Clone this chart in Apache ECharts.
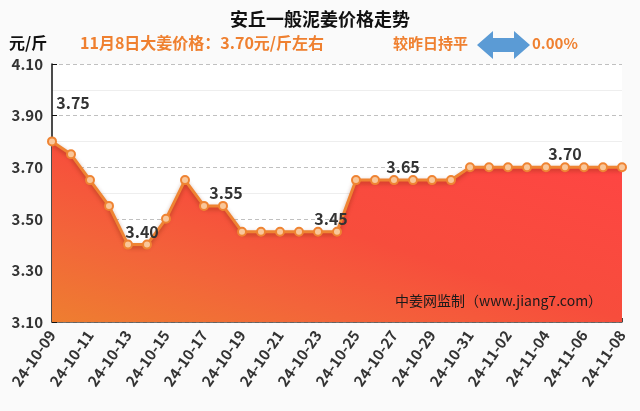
<!DOCTYPE html>
<html><head><meta charset="utf-8">
<script src="https://cdn.jsdelivr.net/npm/echarts@6/dist/echarts.min.js"></script>
<style>html,body{margin:0;padding:0;background:#fafafa}#c{width:640px;height:411px}</style>
</head><body><div id="c"></div>
<script>
var categories = ['24-10-09','24-10-10','24-10-11','24-10-12','24-10-13','24-10-14','24-10-15','24-10-16','24-10-17','24-10-18','24-10-19','24-10-20','24-10-21','24-10-22','24-10-23','24-10-24','24-10-25','24-10-26','24-10-27','24-10-28','24-10-29','24-10-30','24-10-31','24-11-01','24-11-02','24-11-03','24-11-04','24-11-05','24-11-06','24-11-07','24-11-08'];
var prices = [3.80,3.75,3.65,3.55,3.40,3.40,3.50,3.65,3.55,3.55,3.45,3.45,3.45,3.45,3.45,3.45,3.65,3.65,3.65,3.65,3.65,3.65,3.70,3.70,3.70,3.70,3.70,3.70,3.70,3.70,3.70];
var labelledIdx = [1,5,9,15,18,27];
var labelOffsets = {1:[2,-38],5:[-5,0],9:[3,0],15:[-6,0],18:[9,0],27:[0,0]};

var font = '"Noto Sans CJK SC","Noto Sans",sans-serif';
var data = prices.map(function(v,i){
  if (labelledIdx.indexOf(i) >= 0) {
    return {value:v, label:{show:true, position:'top', distance:0, offset:labelOffsets[i],
      formatter:function(p){return p.value.toFixed(2);},
      color:'#333', fontSize:16, fontWeight:'bold', fontFamily:font}};
  }
  return v;
});

var chart = echarts.init(document.getElementById('c'));
chart.setOption({
  backgroundColor:'#fafafa',
  animation:false,
  title:{text:'安丘一般泥姜价格走势', left:'center', top:5,
    textStyle:{fontSize:18, fontWeight:'bold', color:'#111', fontFamily:font}},
  grid:{left:52, right:18, top:64, bottom:89, show:true, backgroundColor:'#ffffff', borderWidth:0},
  xAxis:{type:'category', data:categories, boundaryGap:false,
    axisLine:{lineStyle:{color:'#444', width:1.5}},
    axisTick:{inside:true, length:4, interval:0, lineStyle:{color:'#444'}},
    axisLabel:{interval:1, rotate:55, margin:10, color:'#333', fontSize:15, fontWeight:'bold', fontFamily:font},
    splitLine:{show:false}},
  yAxis:{type:'value', min:3.1, max:4.1, interval:0.2,
    axisLine:{show:true, lineStyle:{color:'#111', width:1.5}},
    axisTick:{show:true, inside:true, length:5, lineStyle:{color:'#111'}},
    axisLabel:{formatter:function(v){return v.toFixed(2);}, color:'#333', fontSize:15, fontWeight:'bold', fontFamily:font, margin:9},
    splitLine:{show:true, lineStyle:{color:'#c0c0c0', type:[4,3]}},
    minorTick:{show:false, splitNumber:2},
    minorSplitLine:{show:true, lineStyle:{color:'#eeeeee', width:1}}},
  series:[{type:'line', data:data, smooth:false, symbol:'circle', symbolSize:8,
    itemStyle:{color:'#f9c79a', borderColor:'#ef8433', borderWidth:2},
    lineStyle:{color:'#ef8433', width:3, shadowColor:'rgba(120,40,0,0.45)', shadowBlur:4, shadowOffsetY:2},
    areaStyle:{color:new echarts.graphic.LinearGradient(0,1,0.316,-2.17,[
      {offset:0, color:'#ee7e30'},{offset:0.15, color:'#f3643a'},{offset:0.29, color:'#f74d3c'},{offset:0.574, color:'#ff4444'},{offset:1, color:'#ff4444'}]), opacity:1},
    z:3}],
  graphic:[
    {type:'text', left:9, top:35, style:{text:'元/斤', fill:'#111', fontSize:16, fontWeight:'bold', fontFamily:font}},
    {type:'text', left:80, top:35, style:{text:'11月8日大姜价格：3.70元/斤左右', fill:'#ef8030', fontSize:16, fontWeight:'bold', fontFamily:font}},
    {type:'text', left:393, top:36, style:{text:'较昨日持平', fill:'#ef8030', fontSize:15, fontWeight:'bold', fontFamily:font}},
    {type:'polygon', shape:{points:[[477,45],[493,31],[493,38],[514,38],[514,31],[530,45],[514,59],[514,52],[493,52],[493,59]]}, style:{fill:'#5b9bd5'}},
    {type:'text', left:532, top:36, style:{text:'0.00%', fill:'#ef8030', fontSize:15, fontWeight:'bold', fontFamily:font}},
    {type:'text', left:395, top:294, z:10, style:{text:'中姜网监制（www.jiang7.com）', fill:'#1a1a1a', fontSize:14, fontFamily:font}}
  ]
});
</script></body></html>
